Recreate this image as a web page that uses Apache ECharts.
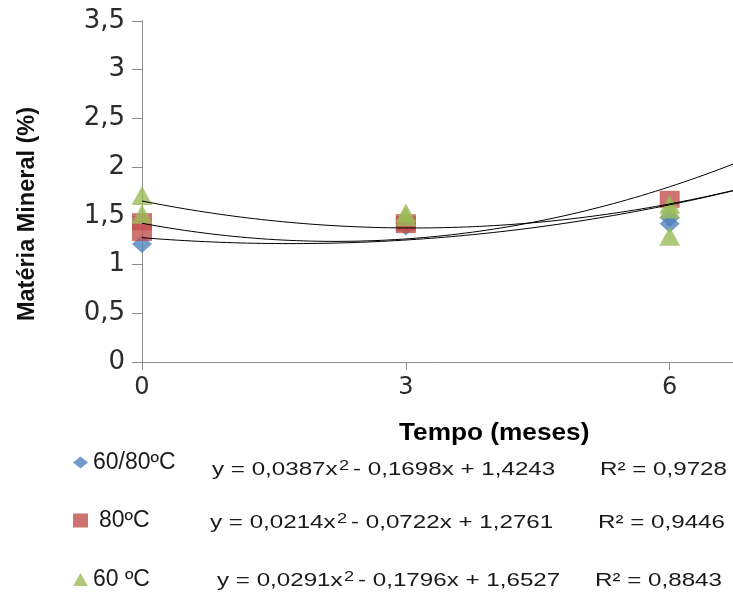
<!DOCTYPE html>
<html>
<head>
<meta charset="utf-8">
<script src="https://cdn.jsdelivr.net/npm/echarts@6/dist/echarts.min.js"></script>
<style>
  html,body{margin:0;padding:0;background:#fff;}
  #chart{width:733px;height:594px;}
</style>
</head>
<body>
<div id="chart"></div>
<script>
// series names (legend)
var seriesNames = ['60/80ºC', '80ºC', '60 ºC'];
var seriesColors = ['#4F81BD', '#C0504D', '#9BBB59'];

// points [tempo, materia mineral]
var pts6080 = [[0, 1.21], [3, 1.39], [6, 1.48], [6, 1.42]];
var pts80 = [[0, 1.44], [0, 1.33], [3, 1.43], [3, 1.41], [6, 1.67]];
var pts60 = [[0, 1.71], [0, 1.52], [3, 1.53], [3, 1.49], [6, 1.62], [6, 1.57], [6, 1.29]];

// trendline coefficients as printed: y = a x² + b x + c
var coefA = [0.0387, 0.0214, 0.0291];
var coefB = [-0.1698, -0.0722, -0.1796];
var coefC = [1.4243, 1.2761, 1.6527];
var rSquared = [0.9728, 0.9446, 0.8843];

var xTicks = [0, 3, 6];
var xMax = 6.72;

function fmt(v, d) { return v.toFixed(d).replace('.', ','); }

function trend(i) {
    var out = [];
    for (var k = 0; k <= 84; k++) {
        var x = xMax * k / 84;
        out.push([x, coefA[i] * x * x + coefB[i] * x + coefC[i]]);
    }
    return out;
}

function eqText(i) {
    var b = coefB[i], c = coefC[i];
    return 'y = ' + fmt(coefA[i], 4) + 'x{sup|2}' + (b < 0 ? '- ' : '+ ') + fmt(Math.abs(b), 4) +
        'x ' + (c < 0 ? '- ' : '+ ') + fmt(Math.abs(c), 4);
}

var myChart = echarts.init(document.getElementById('chart'));

var rowY = [470, 523, 581];     // equation rows
var eqX = [212, 210, 217];
var r2X = [600, 598, 595];
var legTop = [451, 509, 568];
var icons = ['diamond', 'rect', 'triangle'];
var iconH = [12, 14, 13];
var pointData = [pts6080, pts80, pts60];
var symSize = [[20, 18], [20, 17], [21, 19]];

var series = [], legends = [], graphics = [];
for (var i = 0; i < 3; i++) {
    series.push({
        name: seriesNames[i],
        type: 'scatter',
        symbol: icons[i],
        symbolSize: symSize[i],
        itemStyle: { color: seriesColors[i] },
        data: pointData[i],
        z: 2 + i
    });
    legends.push({
        data: [seriesNames[i]],
        left: 73,
        top: legTop[i],
        padding: 0,
        icon: icons[i],
        itemWidth: 15,
        itemHeight: iconH[i],
        textStyle: {
            fontFamily: 'Liberation Sans',
            fontSize: 23,
            color: '#1a1a1a',
            padding: i == 1 ? [0, 0, 0, 6] : 0
        }
    });
    graphics.push({
        type: 'text', x: eqX[i], y: rowY[i], scaleX: 1.3,
        style: {
            text: eqText(i), fontFamily: 'Liberation Sans', fontSize: 18.6, fill: '#1a1a1a', verticalAlign: 'middle',
            rich: { sup: { fontFamily: 'Liberation Sans', fontSize: 14, fill: '#1a1a1a', verticalAlign: 'top', padding: [0, 3, 7, 1] } }
        }
    });
    graphics.push({
        type: 'text', x: r2X[i], y: rowY[i], scaleX: 1.3,
        style: { text: 'R² = ' + fmt(rSquared[i], 4), fontFamily: 'Liberation Sans', fontSize: 18.6, fill: '#1a1a1a', verticalAlign: 'middle' }
    });
}
for (var j = 0; j < 3; j++) {
    series.push({
        name: 'trend' + j,
        type: 'line',
        data: trend(j),
        showSymbol: false,
        silent: true,
        lineStyle: { color: '#000', width: 1 },
        z: 10
    });
}

graphics.push({
    type: 'text', x: 399, y: 434, scaleX: 1.14,
    style: { text: 'Tempo (meses)', fontFamily: 'Liberation Sans', fontWeight: 'bold', fontSize: 23, fill: '#000', verticalAlign: 'middle' }
});
graphics.push({
    type: 'text', x: 28, y: 214, rotation: Math.PI / 2,
    style: { text: 'Matéria Mineral (%)', fontFamily: 'Liberation Sans', fontWeight: 'bold', fontSize: 23.5, fill: '#111', align: 'center', verticalAlign: 'middle' }
});

var option = {
    animation: false,
    backgroundColor: '#fff',
    grid: { left: 142, right: 0, top: 21, bottom: 232 },
    legend: legends,
    xAxis: {
        type: 'value',
        min: 0,
        max: xMax,
        splitLine: { show: false },
        axisLine: { lineStyle: { color: '#8c8c8c' } },
        axisTick: { length: 8, customValues: xTicks, lineStyle: { color: '#8c8c8c' } },
        axisLabel: { customValues: xTicks, margin: 14, fontFamily: 'DejaVu Sans', fontSize: 24, color: '#2b2b2b' }
    },
    yAxis: {
        type: 'value',
        min: 0,
        max: 3.5,
        interval: 0.5,
        splitLine: { show: false },
        axisLine: { show: true, lineStyle: { color: '#8c8c8c' } },
        axisTick: { show: true, length: 10, lineStyle: { color: '#8c8c8c' } },
        axisLabel: {
            margin: 17, fontFamily: 'DejaVu Sans', fontSize: 26, color: '#2b2b2b',
            formatter: function (v) { return String(v).replace('.', ','); }
        }
    },
    graphic: graphics,
    series: series
};
myChart.setOption(option);
</script>
</body>
</html>
